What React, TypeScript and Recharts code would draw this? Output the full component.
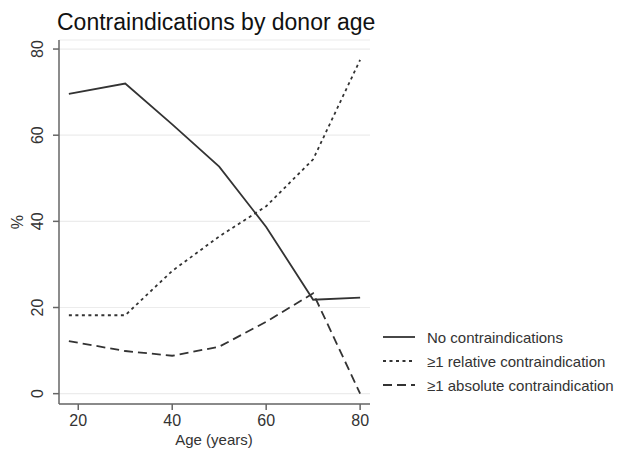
import React from 'react';
import { LineChart, Line, XAxis, YAxis, CartesianGrid } from 'recharts';

const ages = [18, 30, 40, 50, 60, 70, 80];
const noContra = [69.6, 72, 62.5, 52.7, 38.7, 21.8, 22.3];
const relContra = [18.2, 18.2, 28.5, 36.5, 43.5, 54.4, 77.5];
const absContra = [12.2, 9.9, 8.8, 10.9, 16.7, 23.3, 0];
const xTicks = [20, 40, 60, 80];
const yTicks = [0, 20, 40, 60, 80];

const series = [
  { key: 'none', name: 'No contraindications', dash: undefined as string | undefined },
  { key: 'rel', name: '\u22651 relative contraindication', dash: '3 3.5' },
  { key: 'abs', name: '\u22651 absolute contraindication', dash: '9 5' },
];

const data = ages.map((age, i) => ({
  age,
  none: noContra[i],
  rel: relContra[i],
  abs: absContra[i],
}));

const FONT = '"Liberation Sans", Arial, Helvetica, sans-serif';
const INK = '#333';

const YTick = (props: any) => {
  const { x, y, payload } = props;
  const cx = x - 13;
  return (
    <text x={cx} y={y} transform={`rotate(-90 ${cx} ${y})`} textAnchor="middle"
      dominantBaseline="central" fontSize={16} fill={INK} fontFamily={FONT}>
      {payload.value}
    </text>
  );
};

const XTick = (props: any) => {
  const { x, y, payload } = props;
  return (
    <text x={x} y={y + 14} textAnchor="middle" fontSize={16} fill={INK} fontFamily={FONT}>
      {payload.value}
    </text>
  );
};

// legend drawn by hand, to the right of the plot
const LegendBox = () => (
  <svg width={240} height={80} style={{ position: 'absolute', left: 383, top: 327 }}>
    {series.map((s, i) => (
      <g key={s.key}>
        <line x1={0} x2={32} y1={10 + i * 24} y2={10 + i * 24} stroke={INK}
          strokeWidth={1.8} strokeDasharray={s.dash} />
        <text x={44} y={10 + i * 24} dominantBaseline="central" fontSize={15}
          fill={INK} fontFamily={FONT}>
          {s.name}
        </text>
      </g>
    ))}
  </svg>
);

export default function App() {
  return (
    <div style={{ position: 'absolute', left: 0, top: 0, width: 622, height: 449, background: '#fff' }}>
      <div style={{ position: 'absolute', left: 57, top: 9, fontFamily: FONT, fontSize: 23, color: '#111', whiteSpace: 'nowrap' }}>
        Contraindications by donor age
      </div>
      <LineChart width={622} height={449} data={data}
        margin={{ top: 40, right: 252, left: 0, bottom: 0 }}>
        <CartesianGrid horizontal vertical={false} stroke="#ececec" strokeWidth={1.2} />
        <XAxis dataKey="age" type="number" domain={[15.9, 82.1]} ticks={xTicks}
          allowDataOverflow height={45} tick={<XTick />} tickSize={6}
          stroke="#666" strokeWidth={1.5}
          label={{
            content: () => (
              <text x={214} y={445} textAnchor="middle" fontSize={15} fill={INK} fontFamily={FONT}>
                Age (years)
              </text>
            ),
          }} />
        <YAxis type="number" domain={[-2.4, 82.1]} ticks={yTicks} allowDataOverflow
          width={59} tick={<YTick />} tickSize={6} stroke="#666" strokeWidth={1.5}
          label={{
            content: () => (
              <text x={17} y={222} transform="rotate(-90 17 222)" textAnchor="middle"
                dominantBaseline="central" fontSize={16} fill={INK} fontFamily={FONT}>
                %
              </text>
            ),
          }} />
        {series.map((s) => (
          <Line key={s.key} dataKey={s.key} name={s.name} stroke={INK} strokeWidth={1.8}
            strokeDasharray={s.dash} dot={false} isAnimationActive={false} />
        ))}
      </LineChart>
      <LegendBox />
    </div>
  );
}
